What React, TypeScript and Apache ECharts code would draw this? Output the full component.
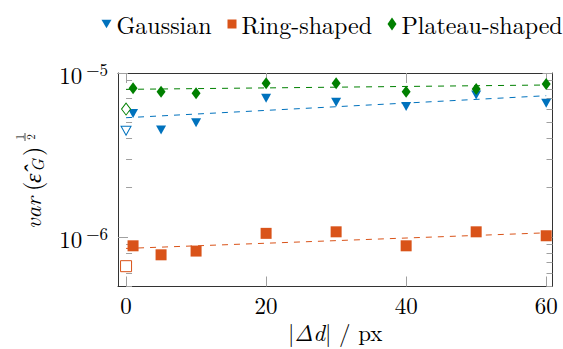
import React, { useEffect, useRef } from 'react';
import * as echarts from 'echarts';

// ---- data ----
const xValues = [1, 5, 10, 20, 30, 40, 50, 60];
const gaussian = [5.67e-6, 4.49e-6, 4.98e-6, 7.01e-6, 6.63e-6, 6.24e-6, 7.34e-6, 6.53e-6];
const ringShaped = [8.85e-7, 7.8e-7, 8.22e-7, 1.054e-6, 1.077e-6, 8.85e-7, 1.077e-6, 1.019e-6];
const plateauShaped = [8.06e-6, 7.69e-6, 7.52e-6, 8.65e-6, 8.65e-6, 7.69e-6, 7.98e-6, 8.57e-6];
const refX = 0;
const gaussianRef = 4.45e-6;
const ringRef = 6.65e-7;
const plateauRef = 6.03e-6;
const fitX = [0, 60];
const gaussianFit = [5.34e-6, 7.27e-6];
const ringFit = [8.53e-7, 1.062e-6];
const plateauFit = [7.95e-6, 8.45e-6];
const xTicks = [0, 20, 40, 60];
const yMajorTicks = [1e-6, 1e-5];
const yMinorTicks = [5e-7, 6e-7, 7e-7, 8e-7, 9e-7, 2e-6, 3e-6, 4e-6, 5e-6, 6e-6, 7e-6, 8e-6, 9e-6];
const seriesNames = ['Gaussian', 'Ring-shaped', 'Plateau-shaped'];

const BLUE = '#0072BD';
const ORANGE = '#D95319';
const GREEN = '#008000';
const FONT = 'Latin Modern Roman';
const TRI = 'path://M0,0L10,0L5,8.5Z';
const AXIS_COLOR = '#333333';
const TICK_COLOR = '#a0a0a0';

const X_MIN = -1.15;
const X_MAX = 60.9;
const Y_MIN = 5e-7;
const Y_MAX = 1e-5;

function pairs(xs: number[], ys: number[]) {
  return xs.map((x, i) => [x, ys[i]]);
}

function hollow(x: number, y: number, color: string) {
  return { value: [x, y], itemStyle: { color: '#ffffff', borderColor: color, borderWidth: 1 } };
}

export default function App() {
  const ref = useRef<HTMLDivElement>(null);
  useEffect(() => {
    if (!ref.current) return;
    const chart = echarts.init(ref.current, undefined, { renderer: 'svg' });
    const grid = { left: 118, right: 10.5, top: 73, bottom: 62.5 };
    const legendText = { fontFamily: FONT, fontSize: 24, color: '#000' };
    const xBase: any = {
      type: 'value',
      min: X_MIN,
      max: X_MAX,
      splitLine: { show: false },
      axisLine: { show: true, onZero: false, lineStyle: { color: AXIS_COLOR, width: 1 } },
      axisTick: { show: true, inside: true, length: 10, customValues: xTicks, lineStyle: { color: TICK_COLOR } },
    };
    const yBase: any = {
      type: 'log',
      logBase: 10,
      min: Y_MIN,
      max: Y_MAX,
      splitLine: { show: false },
      minorTick: { show: false },
      axisLine: { show: true, onZero: false, lineStyle: { color: AXIS_COLOR, width: 1 } },
      axisTick: { show: true, inside: true, length: 10, customValues: yMajorTicks, lineStyle: { color: TICK_COLOR } },
    };
    const yMinor: any = {
      type: 'log',
      logBase: 10,
      gridIndex: 1,
      min: Y_MIN,
      max: Y_MAX,
      splitLine: { show: false },
      axisLine: { show: false },
      axisLabel: { show: false },
      axisTick: { show: true, inside: true, length: 6, customValues: yMinorTicks, lineStyle: { color: TICK_COLOR } },
    };
    const txt = (x: number, y: number, text: string, size: number, italic: boolean, align = 'left') => ({
      type: 'text', x, y,
      style: { text, fontFamily: FONT, fontSize: size, fontStyle: italic ? 'italic' : 'normal', fill: '#000', verticalAlign: 'middle', align },
    });
    const option: any = {
      animation: false,
      backgroundColor: '#ffffff',
      grid: [
        { ...grid },
        { ...grid },
      ],
      legend: [
        { data: [seriesNames[0]], left: 101.5, top: 12, padding: 0, itemWidth: 10, itemHeight: 10, itemGap: 0, selectedMode: false, textStyle: legendText },
        { data: [seriesNames[1]], left: 227.5, top: 12, padding: 0, itemWidth: 9, itemHeight: 9, itemGap: 0, selectedMode: false, textStyle: legendText },
        { data: [seriesNames[2]], left: 387.5, top: 12, padding: 0, itemWidth: 9, itemHeight: 13, itemGap: 0, selectedMode: false, textStyle: legendText },
      ],
      xAxis: [
        {
          ...xBase,
          gridIndex: 0,
          position: 'bottom',
          axisLabel: { customValues: xTicks, fontFamily: FONT, fontSize: 23, color: '#000', margin: 6 },
          name: '{n||}{it|Δd}{n|| / px}',
          nameLocation: 'middle',
          nameGap: 32,
          nameTextStyle: {
            fontFamily: FONT,
            fontSize: 23,
            color: '#000',
            rich: {
              n: { fontFamily: FONT, fontSize: 23, color: '#000' },
              it: { fontFamily: FONT, fontSize: 23, fontStyle: 'italic', color: '#000' },
            },
          },
        },
        { ...xBase, gridIndex: 0, position: 'top', axisLabel: { show: false } },
        { type: 'value', gridIndex: 1, min: X_MIN, max: X_MAX, show: false },
      ],
      yAxis: [
        {
          ...yBase,
          gridIndex: 0,
          position: 'left',
          axisLabel: {
            customValues: yMajorTicks,
            margin: 10,
            formatter: (v: number) => `{b|10}{s|−${Math.round(-Math.log10(v))}}`,
            rich: {
              b: { fontFamily: FONT, fontSize: 23, color: '#000', lineHeight: 25, verticalAlign: 'bottom' },
              s: { fontFamily: FONT, fontSize: 17, color: '#000', verticalAlign: 'top', padding: [0, 0, 0, 4] },
            },
          },
        },
        { ...yBase, gridIndex: 0, position: 'right', axisLabel: { show: false } },
        { ...yMinor, position: 'left' },
        { ...yMinor, position: 'right' },
      ],
      series: [
        { type: 'line', name: 'Gaussian fit', data: pairs(fitX, gaussianFit), symbol: 'none', silent: true, z: 2, lineStyle: { color: BLUE, width: 1, type: [6, 6] } },
        { type: 'line', name: 'Ring-shaped fit', data: pairs(fitX, ringFit), symbol: 'none', silent: true, z: 2, lineStyle: { color: ORANGE, width: 1, type: [6, 6] } },
        { type: 'line', name: 'Plateau-shaped fit', data: pairs(fitX, plateauFit), symbol: 'none', silent: true, z: 2, lineStyle: { color: GREEN, width: 1, type: [6, 6] } },
        {
          type: 'scatter', name: seriesNames[0], symbol: TRI, symbolSize: [10, 9], z: 3,
          itemStyle: { color: BLUE, opacity: 1 },
          data: [hollow(refX, gaussianRef, BLUE), ...pairs(xValues, gaussian)],
        },
        {
          type: 'scatter', name: seriesNames[1], symbol: 'rect', symbolSize: 11, z: 3,
          itemStyle: { color: ORANGE, opacity: 1 },
          data: [hollow(refX, ringRef, ORANGE), ...pairs(xValues, ringShaped)],
        },
        {
          type: 'scatter', name: seriesNames[2], symbol: 'diamond', symbolSize: [9, 12], z: 3,
          itemStyle: { color: GREEN, opacity: 1 },
          data: [hollow(refX, plateauRef, GREEN), ...pairs(xValues, plateauShaped)],
        },
      ],
      graphic: [
        {
          type: 'group',
          x: 38,
          y: 229,
          rotation: Math.PI / 2,
          children: [
            txt(0, -7, 'var', 23, true),
            txt(38, -7, '(', 24, false),
            txt(46, -7, 'ε̂', 24, true),
            txt(57, -1, 'G', 17, true),
            txt(73, -7, ')', 24, false),
            txt(92, -18.5, '1', 11, false, 'center'),
            { type: 'line', shape: { x1: 88, y1: -13, x2: 96, y2: -13 }, style: { stroke: '#000', lineWidth: 0.7 } },
            txt(92, -8, '2', 11, false, 'center'),
          ],
        },
      ],
    };
    chart.setOption(option);
    return () => chart.dispose();
  }, []);
  return <div ref={ref} style={{ position: 'fixed', left: 0, top: 0, width: 563, height: 349 }} />;
}
